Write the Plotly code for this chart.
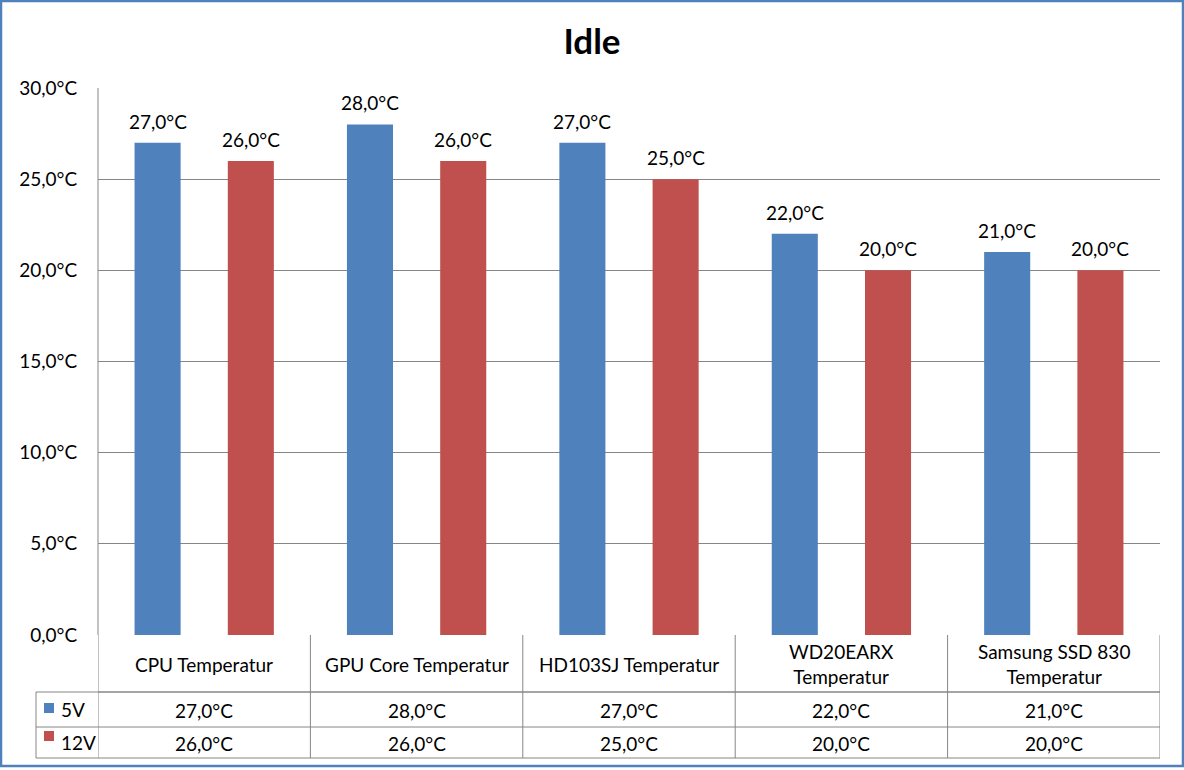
import plotly.graph_objects as go

categories = ["CPU Temperatur", "GPU Core Temperatur", "HD103SJ Temperatur",
              "WD20EARX<br>Temperatur", "Samsung SSD 830<br>Temperatur"]
series_names = ["5V", "12V"]
v5 = [27, 28, 27, 22, 21]
v12 = [26, 26, 25, 20, 20]
colors = ["#4F81BD", "#C0504D"]
y_ticks = [0, 5, 10, 15, 20, 25, 30]

FONT = "Lato, 'Open Sans', sans-serif"
FS = 19

def fmt(v):
    return f"{v:.1f}".replace(".", ",") + "°C"

W, H = 1184, 770
L, R, T, B = 98, 1160, 88, 635
pw, ph = R - L, B - T

def px(x):
    return (x - L) / pw

def py(y):
    return (B - y) / ph

BARGAP = 0.122
fig = go.Figure()
xs = list(range(len(categories)))
for name, vals, c in zip(series_names, [v5, v12], colors):
    fig.add_trace(go.Bar(
        x=xs, y=vals, name=name, marker=dict(color=c, line=dict(width=0)),
    ))

shapes = []
ann = []
gray = "#868686"
tfont = dict(size=FS, color="#000000", family=FONT)

# data labels above bars (group slots: offset = quarter of group width)
slot = (1 - BARGAP) / 2
for k, vals in enumerate([v5, v12]):
    off = (k - 0.5) * slot
    for i, v in enumerate(vals):
        ann.append(dict(xref="x", yref="y", x=i + off, y=v, text=fmt(v), showarrow=False,
                        xanchor="center", yanchor="bottom", yshift=8, font=tfont))

# outer border
shapes.append(dict(type="rect", xref="paper", yref="paper",
                   x0=px(1), x1=px(1183), y0=py(766), y1=py(1),
                   line=dict(color="#4F81BD", width=2.5), layer="above"))
# y-axis line
shapes.append(dict(type="line", xref="paper", yref="paper",
                   x0=0, x1=0, y0=0, y1=1, line=dict(color=gray, width=1)))
# table: rows
shapes.append(dict(type="line", xref="paper", yref="paper", x0=0, x1=1,
                   y0=py(692), y1=py(692), line=dict(color=gray, width=1)))
for yy in [692, 727, 758]:
    shapes.append(dict(type="line", xref="paper", yref="paper", x0=px(36), x1=1,
                       y0=py(yy), y1=py(yy), line=dict(color=gray, width=1)))
# vertical lines
for i in range(len(categories) + 1):
    shapes.append(dict(type="line", xref="x", yref="paper", x0=i - 0.5, x1=i - 0.5,
                       y0=0, y1=py(758), line=dict(color=gray, width=1)))
shapes.append(dict(type="line", xref="paper", yref="paper", x0=px(36), x1=px(36),
                   y0=py(692), y1=py(758), line=dict(color=gray, width=1)))
# legend keys
for (y0, y1), c, name, ty in zip([(703, 713), (731, 741)], colors, series_names, [709, 742]):
    shapes.append(dict(type="rect", xref="paper", yref="paper", x0=px(44), x1=px(54),
                       y0=py(y1), y1=py(y0), fillcolor=c, line=dict(width=0)))
    ann.append(dict(xref="paper", yref="paper", x=px(59), y=py(ty), text=name,
                    showarrow=False, xanchor="left", yanchor="middle", font=tfont))
# category labels + table values
for i, cat in enumerate(categories):
    ann.append(dict(xref="x", yref="paper", x=i, y=py(664), text=cat, showarrow=False,
                    xanchor="center", yanchor="middle", font=tfont))
    ann.append(dict(xref="x", yref="paper", x=i, y=py(710), text=fmt(v5[i]), showarrow=False,
                    xanchor="center", yanchor="middle", font=tfont))
    ann.append(dict(xref="x", yref="paper", x=i, y=py(743), text=fmt(v12[i]), showarrow=False,
                    xanchor="center", yanchor="middle", font=tfont))

fig.update_layout(
    width=W, height=H,
    margin=dict(l=L, r=W - R, t=T, b=H - B),
    paper_bgcolor="#FFFFFF", plot_bgcolor="#FFFFFF",
    barmode="group", bargap=BARGAP, bargroupgap=0.506,
    showlegend=False,
    title=dict(text="<b>Idle</b>", x=0.5, xanchor="center", y=1 - 42 / H, yanchor="middle",
               font=dict(size=35, color="#000000", family=FONT)),
    font=dict(family=FONT, color="#000000"),
    xaxis=dict(range=[-0.5, 4.5], showticklabels=False, showgrid=False, zeroline=False,
               showline=False, ticks=""),
    yaxis=dict(range=[0, 30], tickvals=y_ticks, ticktext=[fmt(v) for v in y_ticks],
               showgrid=True, gridcolor=gray, gridwidth=1, zeroline=False,
               showline=False, ticks="outside", ticklen=16, tickcolor="rgba(0,0,0,0)",
               tickfont=tfont),
    shapes=shapes, annotations=ann,
)
fig.write_html("out.html")
